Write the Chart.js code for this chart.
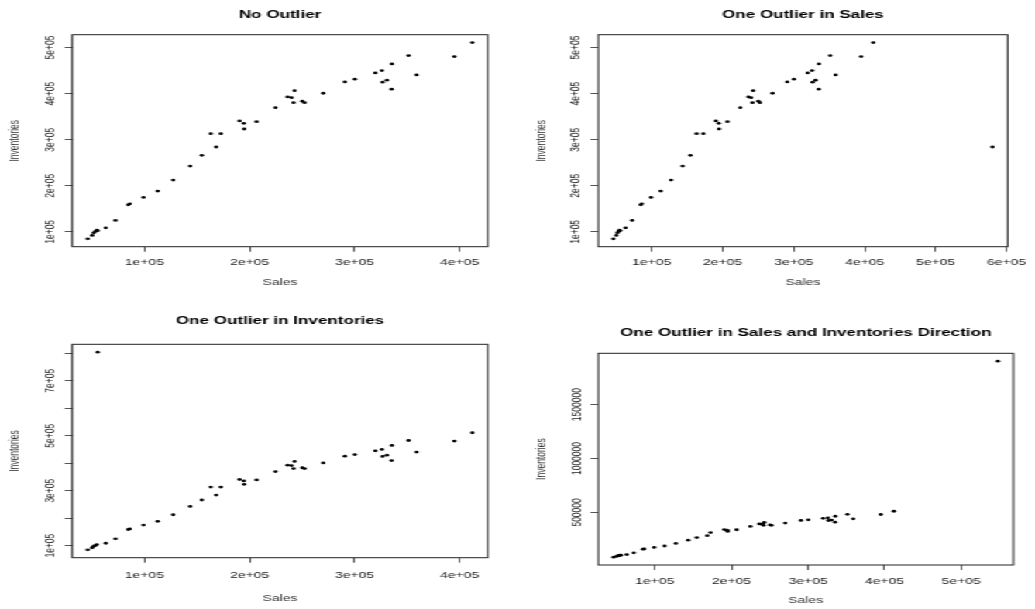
<!DOCTYPE html>
<html>
<head>
<meta charset="utf-8">
<title>Sales vs Inventories</title>
<script src="https://cdn.jsdelivr.net/npm/chart.js"></script>
<style>
  html, body { margin: 0; padding: 0; background: #fff; }
  /* the reference is an R plot that was stretched sideways, so draw narrow and stretch */
  #sheet { position: absolute; left: 0; top: 0; width: 668px; height: 609px;
           transform: scaleX(1.5494); transform-origin: 0 0; }
  #sheet canvas { position: absolute; }
</style>
</head>
<body>
<div id="sheet">
  <canvas id="no-outlier" width="334" height="304" style="left:0;top:0"></canvas>
  <canvas id="outlier-sales" width="334" height="304" style="left:334px;top:0"></canvas>
  <canvas id="outlier-inv" width="334" height="305" style="left:0;top:304px"></canvas>
  <canvas id="outlier-both" width="334" height="305" style="left:334px;top:304px"></canvas>
</div>
<script>
const FONT = "'Liberation Sans', Arial, Helvetica, sans-serif";

// base data (read off the "No Outlier" panel)
const sales = [46000, 50190, 51710, 53330, 54570, 55500, 63140, 72380, 84480, 86000,
  99050, 112670, 127330, 143520, 154570, 163140, 168290, 172670, 190480, 194570,
  194950, 206670, 224760, 236190, 240000, 242860, 241900, 250190, 252380, 270190,
  290760, 300290, 319710, 326000, 326670, 330760, 335520, 335240, 351430, 359050,
  394950, 412100];
const inventories = [84800, 92170, 97830, 100870, 103700, 102500, 108700, 124780, 158700, 160870,
  174780, 188480, 212390, 242830, 266090, 313040, 284130, 313040, 340650, 335650,
  323260, 339130, 369570, 392830, 391300, 406520, 380430, 383480, 380430, 400870,
  425430, 431300, 445000, 450000, 424780, 429130, 464570, 409570, 482610, 440650,
  480430, 510870];

// the single changed observation in each other panel
const salesOutlier = { index: 16, sales: 580000 };
const invOutlier = { index: 5, inventories: 804000 };
const bothOutlier = { index: 15, sales: 548000, inventories: 1903700 };

// tick positions and labels
const xTicks4 = [100000, 200000, 300000, 400000];
const xLabels4 = ['1e+05', '2e+05', '3e+05', '4e+05'];
const xTicks5 = [100000, 200000, 300000, 400000, 500000];
const xLabels5 = ['1e+05', '2e+05', '3e+05', '4e+05', '5e+05'];
const xTicks6 = [100000, 200000, 300000, 400000, 500000, 600000];
const xLabels6 = ['1e+05', '2e+05', '3e+05', '4e+05', '5e+05', '6e+05'];
const yTicks5 = [100000, 200000, 300000, 400000, 500000];
const yLabels5 = ['1e+05', '2e+05', '3e+05', '4e+05', '5e+05'];
const yTicks8 = [100000, 200000, 300000, 400000, 500000, 600000, 700000, 800000];
const yLabels8 = ['1e+05', '', '3e+05', '', '5e+05', '', '7e+05', ''];
const yTicksBig = [500000, 1000000, 1500000];
const yLabelsBig = ['500000', '1000000', '1500000'];

function withValue(values, index, value) {
  const copy = values.slice();
  copy[index] = value;
  return copy;
}

// R pads the data range by 4% on each side
function rRange(values) {
  const lo = Math.min(...values);
  const hi = Math.max(...values);
  const pad = (hi - lo) * 0.04;
  return { min: lo - pad, max: hi + pad };
}

function fixedTicks(values) {
  return scale => { scale.ticks = values.map(value => ({ value })); };
}

const boxPlugin = {
  id: 'box',
  afterDraw(chart) {
    const { ctx, chartArea: a } = chart;
    ctx.save();
    ctx.strokeStyle = '#222';
    ctx.lineWidth = 1;
    ctx.strokeRect(a.left, a.top, a.right - a.left, a.bottom - a.top);
    ctx.restore();
  }
};

function drawPanel(id, p) {
  const xr = rRange(p.x);
  const yr = rRange(p.y);
  new Chart(document.getElementById(id), {
    type: 'scatter',
    data: {
      datasets: [{
        data: p.x.map((x, i) => ({ x, y: p.y[i] })),
        pointRadius: 1.4,
        pointHoverRadius: 1.4,
        pointBorderWidth: 0,
        backgroundColor: '#000'
      }]
    },
    options: {
      responsive: false,
      animation: false,
      events: [],
      layout: { padding: { top: 0, right: p.right, bottom: 0, left: 0 } },
      plugins: {
        legend: { display: false },
        tooltip: { enabled: false },
        title: {
          display: true,
          text: p.title,
          fullSize: false,
          color: '#000',
          font: { family: FONT, size: 11, weight: 'bold' },
          padding: { top: p.titleTop, bottom: p.titleBottom }
        }
      },
      scales: {
        x: {
          type: 'linear',
          min: xr.min,
          max: xr.max,
          afterBuildTicks: fixedTicks(p.xTicks),
          afterFit: s => { s.height = p.xAxisHeight; },
          grid: { drawOnChartArea: false, tickLength: 5, color: '#555' },
          border: { display: false },
          ticks: {
            autoSkip: false,
            maxRotation: 0,
            padding: p.xPad,
            color: '#222',
            font: { family: FONT, size: 9 },
            callback: (v, i) => p.xLabels[i]
          },
          title: {
            display: true,
            text: 'Sales',
            color: '#333',
            font: { family: FONT, size: 9 },
            padding: { top: 0, bottom: p.salesBottom }
          }
        },
        y: {
          type: 'linear',
          min: yr.min,
          max: yr.max,
          afterBuildTicks: fixedTicks(p.yTicks),
          afterFit: s => { s.width = p.yAxisWidth; },
          grid: { drawOnChartArea: false, tickLength: 5, color: '#555' },
          border: { display: false },
          ticks: {
            autoSkip: false,
            minRotation: 90,
            maxRotation: 90,
            crossAlign: 'center',
            padding: p.yPad,
            color: '#222',
            font: { family: FONT, size: 8.5 },
            callback: (v, i) => p.yLabels[i]
          },
          title: {
            display: true,
            text: 'Inventories',
            color: '#333',
            font: { family: FONT, size: 8.5 },
            padding: { top: p.invTop, bottom: 0 }
          }
        }
      }
    },
    plugins: [boxPlugin]
  });
}

drawPanel('no-outlier', {
  title: 'No Outlier',
  x: sales, y: inventories,
  xTicks: xTicks4, xLabels: xLabels4, yTicks: yTicks5, yLabels: yLabels5,
  right: 19.2, titleTop: 8.4, titleBottom: 13.1, xAxisHeight: 57.3, yAxisWidth: 46.7,
  xPad: 5.6, salesBottom: 15.9, yPad: -2.5, invTop: 4.6
});

drawPanel('outlier-sales', {
  title: 'One Outlier in Sales',
  x: withValue(sales, salesOutlier.index, salesOutlier.sales), y: inventories,
  xTicks: xTicks6, xLabels: xLabels6, yTicks: yTicks5, yLabels: yLabels5,
  right: 14.0, titleTop: 8.4, titleBottom: 13.1, xAxisHeight: 57.3, yAxisWidth: 52.1,
  xPad: 5.6, salesBottom: 15.9, yPad: -2.3, invTop: 10.1
});

drawPanel('outlier-inv', {
  title: 'One Outlier in Inventories',
  x: sales, y: withValue(inventories, invOutlier.index, invOutlier.inventories),
  xTicks: xTicks4, xLabels: xLabels4, yTicks: yTicks8, yLabels: yLabels8,
  right: 19.2, titleTop: 10.4, titleBottom: 16.7, xAxisHeight: 51.3, yAxisWidth: 46.7,
  xPad: 7.9, salesBottom: 4.6, yPad: -2.5, invTop: 4.6
});

drawPanel('outlier-both', {
  title: 'One Outlier in Sales and Inventories Direction',
  x: withValue(sales, bothOutlier.index, bothOutlier.sales),
  y: withValue(inventories, bothOutlier.index, bothOutlier.inventories),
  xTicks: xTicks5, xLabels: xLabels5, yTicks: yTicksBig, yLabels: yLabelsBig,
  right: 14.0, titleTop: 22.1, titleBottom: 14, xAxisHeight: 44, yAxisWidth: 52.1,
  xPad: 6.3, salesBottom: 2.6, yPad: -8, invTop: 10.1
});
</script>
</body>
</html>
